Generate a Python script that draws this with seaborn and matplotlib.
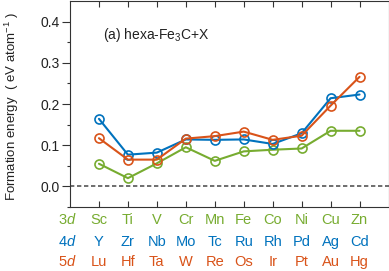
import numpy as np
import pandas as pd
import matplotlib as mpl
mpl.use('agg')
import matplotlib.pyplot as plt
import matplotlib.transforms as mtransforms
import seaborn as sns

# element rows (3d / 4d / 5d) and formation energies in eV/atom
row_names = ['3d', '4d', '5d']
elem_3d = ['Sc', 'Ti', 'V', 'Cr', 'Mn', 'Fe', 'Co', 'Ni', 'Cu', 'Zn']
elem_4d = ['Y', 'Zr', 'Nb', 'Mo', 'Tc', 'Ru', 'Rh', 'Pd', 'Ag', 'Cd']
elem_5d = ['Lu', 'Hf', 'Ta', 'W', 'Re', 'Os', 'Ir', 'Pt', 'Au', 'Hg']
e_3d = [0.055, 0.020, 0.056, 0.095, 0.062, 0.085, 0.089, 0.092, 0.135, 0.135]
e_4d = [0.164, 0.077, 0.082, 0.114, 0.113, 0.114, 0.103, 0.129, 0.214, 0.223]
e_5d = [0.117, 0.065, 0.065, 0.116, 0.122, 0.133, 0.113, 0.123, 0.196, 0.266]
colors = ['#77AC30', '#0072BD', '#D95319']

sns.set_theme(style='ticks')
plt.rcParams['font.family'] = ['Liberation Sans', 'DejaVu Sans']
plt.rcParams['mathtext.fontset'] = 'custom'
plt.rcParams['mathtext.rm'] = 'Liberation Sans'
plt.rcParams['mathtext.it'] = 'Liberation Sans:italic'

pos = np.arange(len(elem_3d))
df = pd.DataFrame({'pos': np.tile(pos, 3),
                   'energy': e_3d + e_4d + e_5d,
                   'row': np.repeat(row_names, len(pos))})

fig = plt.figure(figsize=(3.89, 2.71), dpi=100)
ax = fig.add_axes([70 / 389, 1 - 207 / 271, 318.5 / 389, 206 / 271])

ax.axhline(0, color='#555555', lw=1.2, dashes=(2.6, 1.6), zorder=1)
for name, c in zip(row_names, colors):
    sns.lineplot(data=df[df['row'] == name], x='pos', y='energy', ax=ax,
                 color=c, lw=1.5, marker='o', markersize=6.5,
                 markerfacecolor='none', markeredgecolor=c,
                 markeredgewidth=1.2, zorder=3)

ax.set_xlim(-1, len(pos))
ax.set_ylim(-0.05, 0.45)
ax.set_xticks(pos)
ax.set_xticklabels([])
ax.set_yticks([0.0, 0.1, 0.2, 0.3, 0.4])
ax.set_yticklabels(['0.0', '0.1', '0.2', '0.3', '0.4'])
ax.set_yticks(np.arange(-0.05, 0.45, 0.05), minor=True)
ax.set_xlabel('')
ax.tick_params(axis='x', direction='in', top=True, bottom=True, length=4.5,
               width=0.8, color='#333333', labelbottom=False)
ax.tick_params(axis='y', which='major', direction='out', length=5.5, width=0.8,
               color='#333333', labelsize=10, labelcolor='#222222', pad=2)
ax.tick_params(axis='y', which='minor', direction='out', length=2.5, width=0.8,
               color='#333333', right=False)
ax.tick_params(axis='x', which='minor', bottom=False, top=False)
for s in ax.spines.values():
    s.set_color('#333333')
    s.set_linewidth(0.8)

ax.set_ylabel('Formation energy  ( eV atom$^{-1}$ )', fontsize=9.5, color='#222222')
ax.yaxis.set_label_coords(-0.155, 0.49)

ax.text(0.103, 0.835, '(a) hexa-Fe$_3$C+X', transform=ax.transAxes,
        fontsize=10, color='#222222', va='center', ha='left')

trans = mtransforms.blended_transform_factory(ax.transData, ax.transAxes)
row_y = [-0.063, -0.168, -0.266]
for elems, name, c, yy in zip([elem_3d, elem_4d, elem_5d], row_names, colors, row_y):
    ax.text(-1.1, yy, name[0] + '$\\mathit{d}$', transform=trans, color=c,
            fontsize=10.5, ha='center', va='center')
    for p, el in zip(pos, elems):
        ax.text(p, yy, el, transform=trans, color=c, fontsize=10.5,
                ha='center', va='center')

fig.savefig('out.png', dpi=100)
